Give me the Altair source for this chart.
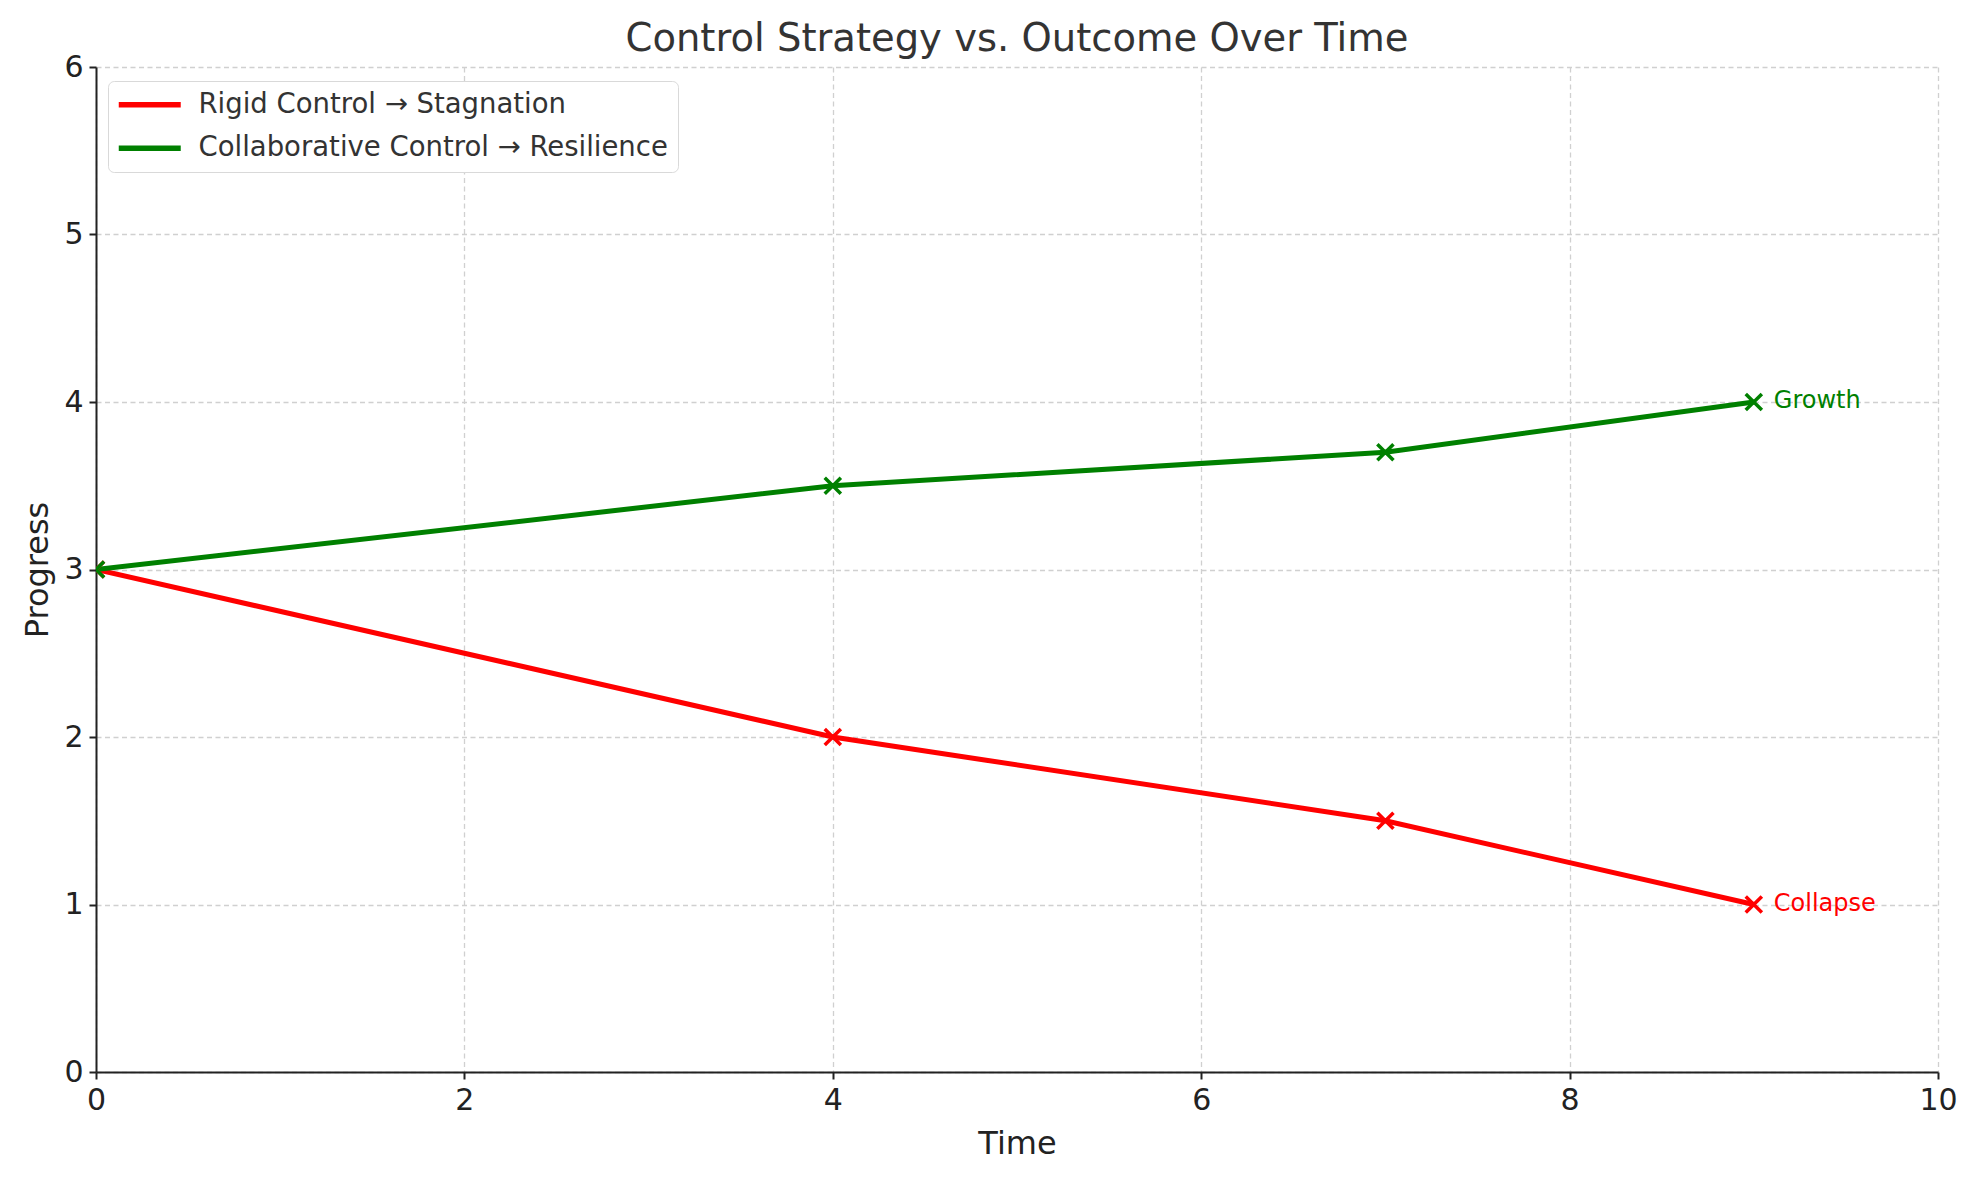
import altair as alt
import pandas as pd

# ---- data ----
time = [0, 4, 7, 9]
rigid = [3, 2, 1.5, 1]
collab = [3, 3.5, 3.7, 4]
series_names = ["Rigid Control → Stagnation", "Collaborative Control → Resilience"]
series_colors = ["#ff0000", "#008000"]
end_labels = ["Collapse", "Growth"]
x_ticks = [0, 2, 4, 6, 8, 10]
y_ticks = [0, 1, 2, 3, 4, 5, 6]
chart_title = "Control Strategy vs. Outcome Over Time"

rows = []
for name, col, vals in zip(series_names, series_colors, [rigid, collab]):
    for t, v in zip(time, vals):
        rows.append({"Time": t, "Progress": v, "Series": name, "Color": col})
df = pd.DataFrame(rows)

ann = pd.DataFrame({
    "Time": [time[-1], time[-1]],
    "Progress": [rigid[-1], collab[-1]],
    "Label": end_labels,
    "Color": series_colors,
})

x = alt.X("Time:Q", scale=alt.Scale(domain=[0, 10], nice=False, zero=False),
          axis=alt.Axis(values=x_ticks, title="Time", labelFlush=False,
                        titlePadding=13, labelOverlap=False))
y = alt.Y("Progress:Q", scale=alt.Scale(domain=[0, 6], nice=False),
          axis=alt.Axis(values=y_ticks, title="Progress", titlePadding=9,
                        labelOverlap=False))

color = alt.Color(
    "Series:N",
    scale=alt.Scale(domain=series_names, range=series_colors),
    sort=series_names,
    legend=alt.Legend(
        title=None, orient="none", legendX=12, legendY=14,
        padding=10, fillColor="white", strokeColor="#d9d9d9",
        cornerRadius=6, labelFontSize=27.5, labelColor="#333333",
        labelFont="DejaVu Sans", labelOffset=35, rowPadding=14.5,
        symbolType="M-3,0L3,0", symbolSize=427, symbolStrokeWidth=5.5,
        symbolOffset=18, labelLimit=800,
    ),
)

lines = alt.Chart(df).mark_line(strokeWidth=5, clip=True).encode(
    x=x, y=y, color=color, detail="Series:N"
)

points = alt.Chart(df).mark_point(
    shape="M-1,-1L1,1M-1,1L1,-1", filled=False, size=260, strokeWidth=3.5,
    opacity=1, clip=True
).encode(x=x, y=y, color=alt.Color("Color:N", scale=None))

labels = alt.Chart(ann).mark_text(
    align="left", baseline="middle", dx=20, dy=-1, fontSize=24, font="DejaVu Sans"
).encode(x=x, y=y, text="Label:N", color=alt.Color("Color:N", scale=None))

chart = alt.layer(lines, points, labels).properties(
    width=1842,
    height=1005,
    autosize=alt.AutoSizeParams(type="none"),
    padding={"left": 88, "top": 59, "right": 30, "bottom": 100},
    title=alt.Title(chart_title, fontSize=38.5, font="DejaVu Sans",
                    fontWeight="normal", color="#333333", anchor="middle",
                    offset=8, dy=15),
).configure(font="DejaVu Sans").configure_view(strokeWidth=0).configure_axis(
    domainColor="#222222", domainWidth=2, tickColor="#222222", tickWidth=2,
    tickSize=7, labelFontSize=30, labelColor="#222222", labelPadding=6,
    labelFont="DejaVu Sans", titleFont="DejaVu Sans",
    titleFontSize=32, titleFontWeight="normal", titleColor="#222222",
    gridColor="#d0d0d0", gridDash=[5, 3.5], gridWidth=1.3,
)

chart.save("out.html", embed_options={"renderer": "svg", "actions": False})
